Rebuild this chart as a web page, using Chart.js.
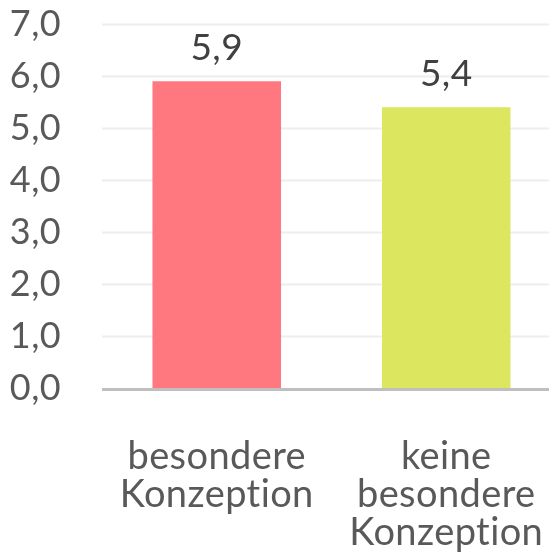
<!DOCTYPE html>
<html>
<head>
<meta charset="utf-8">
<script src="https://cdn.jsdelivr.net/npm/chart.js@4/dist/chart.umd.min.js"></script>
<style>
  html, body { margin: 0; padding: 0; background: #fff; }
  #wrap { width: 549px; height: 556px; }
</style>
</head>
<body>
<div id="wrap"><canvas id="chart" width="549" height="556"></canvas></div>
<script>
const categories = [['besondere', 'Konzeption'], ['keine', 'besondere', 'Konzeption']];
const values = [5.9, 5.4];
const barColors = ['#FF777F', '#DCE65F'];
const yMin = 0;
const yMax = 7;
const yStep = 1;

const fontFamily = 'Lato, "Open Sans", sans-serif';
const fontSize = 37;

function fmt(v) {
  return v.toFixed(1).replace('.', ',');
}

// the original plot runs a little past the right edge of the picture
const overhang = 12;

const gridPlugin = {
  id: 'fullGrid',
  afterLayout(chart) {
    const x = chart.scales.x;
    x.right += overhang;
    x.width += overhang;
    x.configure();
  },
  beforeDraw(chart) {
    // small spacing keeps "ti" from turning into a ligature
    chart.ctx.letterSpacing = '0.4px';
  },
  beforeDatasetsDraw(chart) {
    const ctx = chart.ctx;
    const y = chart.scales.y;
    const left = chart.chartArea.left;
    const right = chart.width;
    ctx.save();
    y.ticks.forEach(t => {
      if (t.value === yMin) return;
      const py = Math.round(y.getPixelForValue(t.value)) + 0.5;
      ctx.strokeStyle = '#EDEDED';
      ctx.lineWidth = 2;
      ctx.beginPath();
      ctx.moveTo(left, py);
      ctx.lineTo(right, py);
      ctx.stroke();
    });
    ctx.restore();
  },
  afterDatasetsDraw(chart) {
    const ctx = chart.ctx;
    const y = chart.scales.y;
    const py = y.getPixelForValue(yMin);
    ctx.save();
    ctx.strokeStyle = '#BFBFBF';
    ctx.lineWidth = 3;
    ctx.beginPath();
    ctx.moveTo(chart.chartArea.left, py + 1.5);
    ctx.lineTo(chart.width, py + 1.5);
    ctx.stroke();

    // value labels above bars
    const meta = chart.getDatasetMeta(0);
    ctx.fillStyle = '#404040';
    ctx.font = fontSize + 'px ' + fontFamily;
    ctx.textAlign = 'center';
    ctx.textBaseline = 'alphabetic';
    meta.data.forEach((bar, i) => {
      ctx.fillText(fmt(values[i]), bar.x, bar.y - 21);
    });
    ctx.restore();
  }
};

const ctx = document.getElementById('chart').getContext('2d');
new Chart(ctx, {
  type: 'bar',
  data: {
    labels: categories,
    datasets: [{
      data: values,
      backgroundColor: barColors,
      borderWidth: 0,
      categoryPercentage: 1,
      barPercentage: 0.56
    }]
  },
  options: {
    responsive: false,
    animation: false,
    devicePixelRatio: 1,
    layout: { padding: { top: 24, right: 0, left: 0, bottom: 0 } },
    plugins: {
      legend: { display: false },
      tooltip: { enabled: false }
    },
    scales: {
      x: {
        grid: { display: false, drawTicks: false },
        border: { display: false },
        ticks: {
          color: '#595959',
          font: { family: fontFamily, size: 38, lineHeight: 1.0 },
          padding: 50,
          maxRotation: 0,
          autoSkip: false
        },
        afterFit(scale) {
          scale.height = 168;
          scale.paddingLeft = 0;
          scale.paddingRight = 0;
        }
      },
      y: {
        min: yMin,
        max: yMax,
        grid: { display: false, drawTicks: false },
        border: { display: false },
        ticks: {
          stepSize: yStep,
          autoSkip: false,
          color: '#595959',
          font: { family: fontFamily, size: 36 },
          padding: 41,
          callback: v => fmt(v)
        },
        afterFit(scale) {
          scale.width = 102;
          scale.paddingTop = 0;
          scale.paddingBottom = 0;
        }
      }
    }
  },
  plugins: [gridPlugin]
});
</script>
</body>
</html>
